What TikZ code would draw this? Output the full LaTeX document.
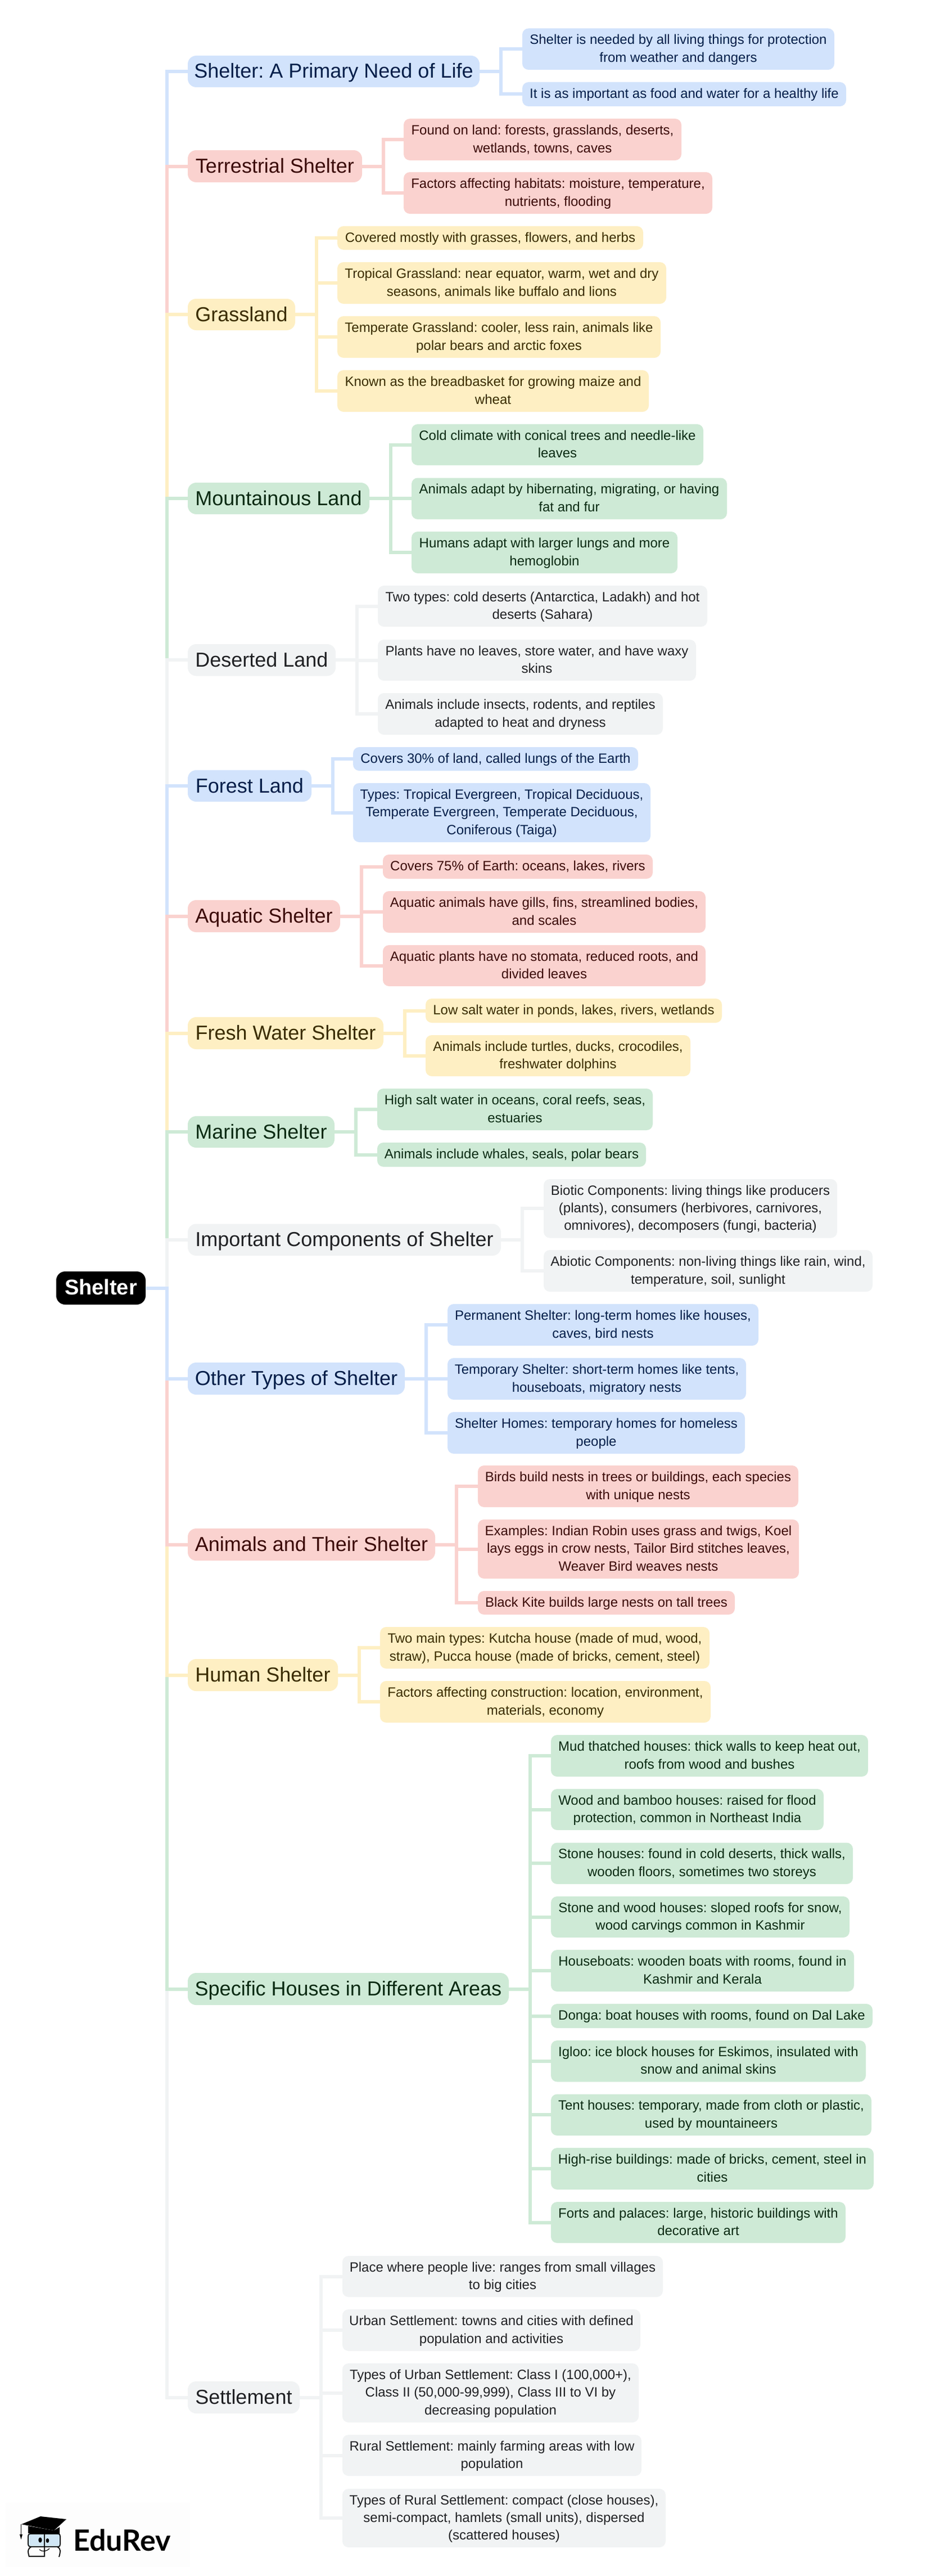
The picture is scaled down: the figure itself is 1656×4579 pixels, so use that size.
\documentclass[tikz,border=0pt]{standalone}
\usepackage{fontspec}
\setmainfont{Liberation Sans}
\newfontfamily\logofont{Lato}
\definecolor{fBlue}{HTML}{D2E3FC}
\definecolor{fPink}{HTML}{FAD2CF}
\definecolor{fYellow}{HTML}{FEEFC3}
\definecolor{fGreen}{HTML}{CEEAD6}
\definecolor{fGray}{HTML}{F1F3F4}
\definecolor{tBlue}{HTML}{041E49}
\definecolor{tPink}{HTML}{3B0A08}
\definecolor{tYellow}{HTML}{3A2C00}
\definecolor{tGreen}{HTML}{0A2A12}
\definecolor{tGray}{HTML}{202124}
\definecolor{logoBg}{HTML}{FDFDFD}
\definecolor{logoGlass}{HTML}{D0E6F5}
\tikzset{
  anybox/.style={inner sep=0pt,outer sep=0pt,align=center},
  leafbox/.style={anybox,rounded corners=11pt,font=\frenchspacing\fontsize{24}{31.3}\selectfont},
  topicbox/.style={anybox,rounded corners=15pt,font=\frenchspacing\fontsize{36}{47}\selectfont},
  rootbox/.style={anybox,rounded corners=16pt,fill=black,text=white,font=\fontsize{38}{47}\selectfont\bfseries},
  cblue/.style={fill=fBlue,text=tBlue},
  cpink/.style={fill=fPink,text=tPink},
  cyellow/.style={fill=fYellow,text=tYellow},
  cgreen/.style={fill=fGreen,text=tGreen},
  cgray/.style={fill=fGray,text=tGray},
  wire/.style={line width=6pt,line join=miter,line cap=butt}
}
\newcommand\mmbox[7]{%
  \pgfmathsetmacro\mmcx{(#3+#5)/2}\pgfmathsetmacro\mmcy{(#4+#6)/2}%
  \pgfmathsetmacro\mmw{#5-#3}\pgfmathsetmacro\mmh{#6-#4}%
  \node[#1,minimum width=\mmw pt,minimum height=\mmh pt] (#2) at (\mmcx,\mmcy) {#7};}
% leaf: colour, name, left, top, right, bottom, text
\newcommand\lf[7]{\mmbox{leafbox,#1}{#2}{#3}{#4}{#5}{#6}{\rule{0pt}{23pt}#7\rule[-8.3pt]{0pt}{8.3pt}}}
% topic: colour, name, left, top, right, bottom, text
\newcommand\tp[7]{\mmbox{topicbox,#1}{#2}{#3}{#4}{#5}{#6}{\rule[-10pt]{0pt}{44pt}#7}}
\newcommand\cn[3]{\draw[wire,draw=#1] (#2.east) -- ++(38,0) |- (#3.west);}
\begin{document}
\begin{tikzpicture}[x=1pt,y=-1pt]
\useasboundingbox (0,0) rectangle (1656,4579);
\fill[white] (0,0) rectangle (1656,4579);

\mmbox{rootbox}{root}{100}{2260}{259}{2319}{\rule[-11pt]{0pt}{46pt}Shelter}

% Shelter: A Primary Need of Life
\tp{cblue}{a}{334}{99}{853}{155}{Shelter: A Primary Need of Life}
\lf{cblue}{a1}{929}{50.5}{1484}{124}{Shelter is needed by all living things for protection\\from weather and dangers}
\lf{cblue}{a2}{929}{146}{1505}{189}{It is as important as food and water for a healthy life}
% Terrestrial
\tp{cpink}{b}{334}{267}{644}{324}{Terrestrial Shelter}
\lf{cpink}{b1}{718}{211}{1212}{285}{Found on land: forests, grasslands, deserts,\\wetlands, towns, caves}
\lf{cpink}{b2}{718}{306}{1267}{380}{Factors affecting habitats: moisture, temperature,\\nutrients, flooding}
% Grassland
\tp{cyellow}{c}{334}{531}{525}{587}{Grassland}
\lf{cyellow}{c1}{600}{402}{1144}{444}{Covered mostly with grasses, flowers, and herbs}
\lf{cyellow}{c2}{600}{466}{1185}{540}{Tropical Grassland: near equator, warm, wet and dry\\seasons, animals like buffalo and lions}
\lf{cyellow}{c3}{600}{562}{1175}{636}{Temperate Grassland: cooler, less rain, animals like\\polar bears and arctic foxes}
\lf{cyellow}{c4}{600}{658}{1154}{732}{Known as the breadbasket for growing maize and\\wheat}
% Mountainous
\tp{cgreen}{d}{334}{858}{657}{914}{Mountainous Land}
\lf{cgreen}{d1}{732}{754}{1251}{827}{Cold climate with conical trees and needle-like\\leaves}
\lf{cgreen}{d2}{732}{849.5}{1293}{923}{Animals adapt by hibernating, migrating, or having\\fat and fur}
\lf{cgreen}{d3}{732}{945}{1205}{1019}{Humans adapt with larger lungs and more\\hemoglobin}
% Deserted
\tp{cgray}{e}{334}{1145}{597}{1201.5}{Deserted Land}
\lf{cgray}{e1}{672}{1041}{1258}{1114}{Two types: cold deserts (Antarctica, Ladakh) and hot\\deserts (Sahara)}
\lf{cgray}{e2}{672}{1137}{1238}{1210}{Plants have no leaves, store water, and have waxy\\skins}
\lf{cgray}{e3}{672}{1232}{1179}{1306}{Animals include insects, rodents, and reptiles\\adapted to heat and dryness}
% Forest
\tp{cblue}{f}{334}{1369}{554}{1425}{Forest Land}
\lf{cblue}{f1}{628}{1328}{1135}{1370}{Covers 30\% of land, called lungs of the Earth}
\lf{cblue}{f2}{628}{1392}{1157}{1497}{Types: Tropical Evergreen, Tropical Deciduous,\\Temperate Evergreen, Temperate Deciduous,\\Coniferous (Taiga)}
% Aquatic
\tp{cpink}{g}{334}{1600}{605}{1657}{Aquatic Shelter}
\lf{cpink}{g1}{681}{1519}{1161}{1562}{Covers 75\% of Earth: oceans, lakes, rivers}
\lf{cpink}{g2}{681}{1584}{1255}{1658}{Aquatic animals have gills, fins, streamlined bodies,\\and scales}
\lf{cpink}{g3}{681}{1680}{1255}{1753}{Aquatic plants have no stomata, reduced roots, and\\divided leaves}
% Fresh Water
\tp{cyellow}{h}{334}{1808}{682}{1865}{Fresh Water Shelter}
\lf{cyellow}{h1}{757}{1775}{1284}{1818}{Low salt water in ponds, lakes, rivers, wetlands}
\lf{cyellow}{h2}{757}{1840}{1228}{1913}{Animals include turtles, ducks, crocodiles,\\freshwater dolphins}
% Marine
\tp{cgreen}{i}{334}{1984}{595}{2040}{Marine Shelter}
\lf{cgreen}{i1}{671}{1935}{1161}{2009}{High salt water in oceans, coral reefs, seas,\\estuaries}
\lf{cgreen}{i2}{671}{2031}{1149}{2074}{Animals include whales, seals, polar bears}
% Important
\tp{cgray}{j}{334}{2175.5}{891}{2232}{Important Components of Shelter}
\lf{cgray}{j1}{967}{2096}{1489}{2200.5}{Biotic Components: living things like producers\\(plants), consumers (herbivores, carnivores,\\omnivores), decomposers (fungi, bacteria)}
\lf{cgray}{j2}{967}{2222}{1552}{2296}{Abiotic Components: non-living things like rain, wind,\\temperature, soil, sunlight}
% Other
\tp{cblue}{k}{334}{2422}{720}{2479}{Other Types of Shelter}
\lf{cblue}{k1}{796}{2318}{1349}{2392}{Permanent Shelter: long-term homes like houses,\\caves, bird nests}
\lf{cblue}{k2}{796}{2414}{1327}{2488}{Temporary Shelter: short-term homes like tents,\\houseboats, migratory nests}
\lf{cblue}{k3}{796}{2510}{1325}{2584}{Shelter Homes: temporary homes for homeless\\people}
% Animals
\tp{cpink}{l}{334}{2717}{774}{2774}{Animals and Their Shelter}
\lf{cpink}{l1}{850}{2605}{1420}{2679}{Birds build nests in trees or buildings, each species\\with unique nests}
\lf{cpink}{l2}{850}{2701}{1421}{2806}{Examples: Indian Robin uses grass and twigs, Koel\\lays eggs in crow nests, Tailor Bird stitches leaves,\\Weaver Bird weaves nests}
\lf{cpink}{l3}{850}{2828}{1307}{2870}{Black Kite builds large nests on tall trees}
% Human
\tp{cyellow}{m}{334}{2949}{601}{3006}{Human Shelter}
\lf{cyellow}{m1}{676}{2892}{1262}{2966}{Two main types: Kutcha house (made of mud, wood,\\straw), Pucca house (made of bricks, cement, steel)}
\lf{cyellow}{m2}{676}{2988}{1264}{3062}{Factors affecting construction: location, environment,\\materials, economy}
% Specific
\tp{cgreen}{n}{334}{3507}{905}{3564}{Specific Houses in Different Areas}
\lf{cgreen}{n1}{980}{3084}{1544}{3158}{Mud thatched houses: thick walls to keep heat out,\\roofs from wood and bushes}
\lf{cgreen}{n2}{980}{3180}{1465}{3253}{Wood and bamboo houses: raised for flood\\protection, common in Northeast India}
\lf{cgreen}{n3}{980}{3275.5}{1517}{3349}{Stone houses: found in cold deserts, thick walls,\\wooden floors, sometimes two storeys}
\lf{cgreen}{n4}{980}{3371}{1511}{3444}{Stone and wood houses: sloped roofs for snow,\\wood carvings common in Kashmir}
\lf{cgreen}{n5}{980}{3466}{1519}{3540}{Houseboats: wooden boats with rooms, found in\\Kashmir and Kerala}
\lf{cgreen}{n6}{980}{3562}{1552}{3605}{Donga: boat houses with rooms, found on Dal Lake}
\lf{cgreen}{n7}{980}{3627}{1540}{3700.5}{Igloo: ice block houses for Eskimos, insulated with\\snow and animal skins}
\lf{cgreen}{n8}{980}{3722.5}{1550}{3796}{Tent houses: temporary, made from cloth or plastic,\\used by mountaineers}
\lf{cgreen}{n9}{980}{3818}{1554}{3892}{High-rise buildings: made of bricks, cement, steel in\\cities}
\lf{cgreen}{n10}{980}{3914}{1504}{3987}{Forts and palaces: large, historic buildings with\\decorative art}
% Settlement
\tp{cgray}{o}{334}{4233}{533}{4290}{Settlement}
\lf{cgray}{o1}{609}{4010}{1179}{4083}{Place where people live: ranges from small villages\\to big cities}
\lf{cgray}{o2}{609}{4105}{1139}{4179}{Urban Settlement: towns and cities with defined\\population and activities}
\lf{cgray}{o3}{609}{4201}{1136}{4306}{Types of Urban Settlement: Class I (100,000+),\\Class II (50,000-99,999), Class III to VI by\\decreasing population}
\lf{cgray}{o4}{609}{4328}{1141}{4401}{Rural Settlement: mainly farming areas with low\\population}
\lf{cgray}{o5}{609}{4424}{1184}{4528}{Types of Rural Settlement: compact (close houses),\\semi-compact, hamlets (small units), dispersed\\(scattered houses)}

% connectors, root to topics: upper branches top to bottom, lower bottom to top
\foreach \wc/\wt in {fBlue/a,fPink/b,fYellow/c,fGreen/d,fGray/e,fBlue/f,fPink/g,fYellow/h,fGreen/i,fGray/j,fGray/o,fGreen/n,fYellow/m,fPink/l,fBlue/k}
  {\cn{\wc}{root}{\wt}}
% connectors, topic to leaves
\foreach \wc/\wp/\wt in {fBlue/a/a1,fBlue/a/a2,fPink/b/b1,fPink/b/b2,fYellow/c/c1,fYellow/c/c2,fYellow/c/c3,fYellow/c/c4,fGreen/d/d1,fGreen/d/d2,fGreen/d/d3,fGray/e/e1,fGray/e/e2,fGray/e/e3,fBlue/f/f1,fBlue/f/f2,fPink/g/g1,fPink/g/g2,fPink/g/g3,fYellow/h/h1,fYellow/h/h2,fGreen/i/i1,fGreen/i/i2,fGray/j/j1,fGray/j/j2,fBlue/k/k1,fBlue/k/k2,fBlue/k/k3,fPink/l/l1,fPink/l/l2,fPink/l/l3,fYellow/m/m1,fYellow/m/m2,fGreen/n/n1,fGreen/n/n2,fGreen/n/n3,fGreen/n/n4,fGreen/n/n5,fGreen/n/n6,fGreen/n/n7,fGreen/n/n8,fGreen/n/n9,fGreen/n/n10,fGray/o/o1,fGray/o/o2,fGray/o/o3,fGray/o/o4,fGray/o/o5}
  {\cn{\wc}{\wp}{\wt}}

% logo
\fill[logoBg] (10,4449) rectangle (338,4563);
\fill[black] (38,4487) -- (72,4473) -- (118,4478) -- (96,4498) -- cycle;
\fill[black] (50,4490) -- (50,4503) -- (106,4504) -- (106,4492) -- (96,4498) -- cycle;
\draw[black,line width=1.2pt] (37.5,4487) -- (37.5,4506);
\fill[black] (35,4505) -- (40,4505) -- (37.5,4514) -- cycle;
\draw[black,line width=1.8pt,fill=logoGlass] (50,4510) .. controls (50,4504) and (52,4504) .. (56,4504) -- (102,4504) .. controls (106,4504) and (107,4505) .. (107,4510) -- (107,4521) .. controls (107,4526) and (106,4527) .. (102,4527) -- (56,4527) .. controls (52,4527) and (50,4526) .. (50,4521) -- cycle;
\draw[black,line width=1.8pt] (52,4545) .. controls (49,4535) and (49,4530) .. (56,4527);
\draw[black,line width=1.8pt] (105,4545) .. controls (108,4535) and (108,4530) .. (102,4527);
\draw[black,line width=1.8pt] (52,4544) -- (79,4544);
\draw[black,line width=1.5pt] (79,4504) -- (79,4545);
\fill[black] (71.5,4515) ellipse (3.2 and 4.6);
\fill[black] (84.5,4516) ellipse (2.8 and 4);
\draw[black,line width=1.2pt] (70,4532) .. controls (75,4536) and (82,4536) .. (88,4530);
\node[anchor=base west,inner sep=0pt,font=\logofont\bfseries\fontsize{52}{60}\selectfont,text=black] (logo) at (130,4534) {EduRev};
\end{tikzpicture}
\end{document}
